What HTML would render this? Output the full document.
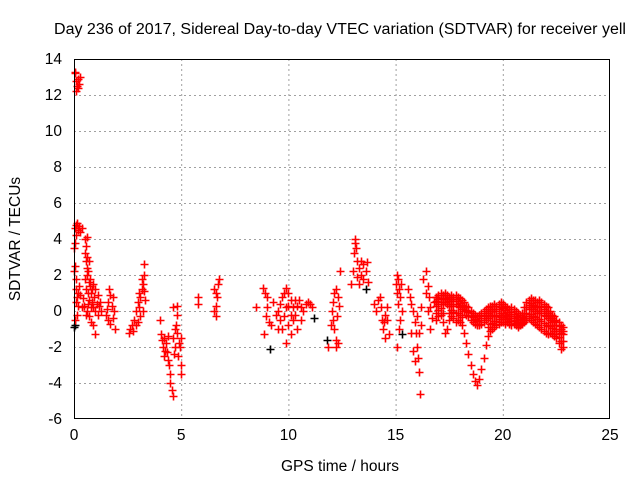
<!DOCTYPE html>
<html><head><meta charset="utf-8"><style>
body{margin:0;background:#fff}
svg{display:block;font-family:"Liberation Sans",sans-serif}
</style></head><body>
<svg id="chart" width="640" height="480" viewBox="0 0 640 480">
<text x="340" y="34" font-size="15.5" text-anchor="middle" fill="#000" textLength="572" lengthAdjust="spacingAndGlyphs">Day 236 of 2017, Sidereal Day-to-day VTEC variation (SDTVAR) for receiver yell</text>
<text x="340" y="471" font-size="15.5" text-anchor="middle">GPS time / hours</text>
<text transform="translate(20,239) rotate(-90)" font-size="15.5" text-anchor="middle">SDTVAR / TECUs</text>
<g id="grid"></g>
<g id="ticks"></g>
<g id="black"></g>
<g id="red"></g>
<rect x="74.5" y="59.5" width="535" height="359" fill="none" stroke="#000" stroke-width="1"/>
</svg>
<script>
const xTicks=[0,5,10,15,20,25];
const yTicks=[14,12,10,8,6,4,2,0,-2,-4,-6];
// scattered red points [hour, value]
const redPts=[[0.05,13.2],[0.1,12.8],[0.15,12.5],[0.2,12.9],[0.25,12.6],[0.3,13.0],[0.1,12.2],[0.05,13.3],[0.2,12.4],
[0.05,4.6],[0.1,4.8],[0.15,4.9],[0.2,4.5],[0.25,4.7],[0.3,4.4],[0.35,4.6],[0.1,4.2],[0.05,3.8],[0.02,3.5],
[0.0,2.2],[0.05,2.5],[0.08,1.8],[0.1,1.2],[0.15,0.8],[0.2,0.3],[0.12,-0.2],[0.03,-0.5],[0.1,0.5],[0.2,1.0],[0.25,1.4],[0.3,0.9],[0.35,0.2],[0.4,0.7],
[0.5,4.0],[0.55,3.6],[0.6,4.1],[0.5,3.2],[0.55,2.8],[0.6,2.4],[0.5,1.8],[0.6,2.0],[0.7,1.6],[0.55,1.2],[0.65,1.0],[0.7,0.6],[0.75,1.4],[0.8,1.0],[0.85,0.5],[0.9,0.2],[0.95,0.8],[1.0,1.2],[1.05,0.4],[1.1,-0.2],[1.15,0.3],[0.6,0.0],[0.7,-0.3],[0.8,-0.6],[0.9,-0.8],[1.0,-1.3],[0.45,0.3],[0.55,-0.2],[0.65,0.4],[0.75,1.8],[0.85,1.2],[1.1,0.9],[1.2,0.5],[1.25,0.0],[0.6,3.0],[0.65,2.2],[0.7,2.8],[0.8,0.2],[0.9,1.5],[1.0,0.0],
[1.5,-0.2],[1.55,0.1],[1.6,0.5],[1.65,1.2],[1.7,0.9],[1.6,-0.5],[1.7,-0.7],[1.8,-0.4],[1.85,0.0],[1.9,-1.0],[1.75,0.3],[1.8,0.8],
[2.55,-1.2],[2.6,-1.0],[2.7,-0.8],[2.8,-0.5],[2.75,-1.1],[2.9,0.0],[3.0,0.5],[3.05,0.2],[3.1,0.8],[3.15,1.2],[3.2,1.5],[3.25,2.0],[3.1,-0.3],[3.0,-0.6],[3.2,0.0],[3.3,0.6],[3.15,1.8],[2.9,-0.8],[3.05,1.0],[3.25,1.1],[3.25,2.6],
[4.0,-0.5],[4.05,-1.3],[4.1,-1.6],[4.15,-2.0],[4.2,-1.5],[4.3,-1.8],[4.35,-2.3],[4.4,-2.7],[4.25,-2.2],[4.5,-4.0],[4.55,-4.4],[4.6,-4.7],[4.5,-3.5],[4.6,-1.5],[4.7,-1.0],[4.75,-0.8],[4.7,-2.0],[4.8,-1.2],[4.85,-2.5],[4.9,-1.8],[4.95,-2.0],[5.0,-3.0],[5.0,-3.5],[4.8,-0.2],[4.6,0.2],[4.8,0.3],[5.0,-1.5],[4.2,-2.5],[4.4,-1.4],[4.65,-2.4],[4.45,-3.0],
[5.8,0.8],[5.8,0.4],[6.55,1.2],[6.6,1.0],[6.65,0.8],[6.7,1.5],[6.75,1.8],[6.6,0.3],[6.55,0.0],[6.6,-0.3],
[8.5,0.2],[8.8,1.3],[8.9,1.0],[9.0,0.8],[8.95,-0.3],[8.85,-1.3],[9.0,0.2],[9.1,-0.6],[9.2,-0.8],
[9.3,0.5],[9.4,-0.2],[9.5,0.0],[9.6,0.4],[9.7,0.8],[9.8,1.0],[9.9,1.3],[10.0,1.0],[10.1,0.6],[10.2,0.2],[10.3,-0.2],[10.4,0.3],[10.5,0.6],[10.6,0.2],[10.7,0.0],[10.8,0.4],[10.9,0.5],[11.0,0.4],[11.1,0.2],[9.6,-0.5],[9.8,-0.3],[10.0,-0.8],[10.2,-0.5],[10.4,-1.0],[9.9,-1.8],[10.1,-1.3],[9.5,-1.0],[9.7,-1.0],[10.6,-0.5],[9.9,0.2],[10.1,-0.2],[10.3,0.6],[10.0,0.3],
[11.85,-2.0],[12.0,-0.8],[12.05,0.0],[12.1,0.5],[12.15,1.0],[12.2,1.2],[12.3,0.8],[12.1,-0.5],[12.15,-1.0],[12.2,-1.6],[12.2,-2.0],[12.3,-1.8],[12.4,2.2],[12.35,0.3],[12.25,-0.3],
[12.9,1.5],[13.0,2.2],[13.05,3.2],[13.1,4.0],[13.15,3.5],[13.2,2.8],[13.3,2.4],[13.4,2.0],[13.5,1.8],[13.6,2.2],[13.65,2.7],[13.7,1.6],[13.3,1.5],[13.5,2.6],[13.1,3.8],[13.2,1.9],[13.4,2.8],
[14.0,0.4],[14.1,0.0],[14.2,0.6],[14.25,0.8],[14.3,0.2],[14.35,-0.5],[14.4,-1.0],[14.45,-0.6],[14.5,-0.2],[14.6,-0.5],[14.7,-1.3],[14.5,-1.5],[14.6,0.2],
[15.0,1.5],[15.05,2.0],[15.1,1.8],[15.15,1.2],[15.2,0.8],[15.1,0.4],[15.25,1.5],[15.3,0.0],[15.2,-0.5],[15.15,-1.0],[15.05,-2.0],[15.05,1.0],
[15.6,1.2],[15.65,0.8],[15.7,0.4],[15.8,0.0],[15.9,-0.6],[15.95,-1.2],[16.0,-2.0],[16.05,-2.6],[16.1,-3.4],[16.15,-4.6],[15.7,-1.2],[15.8,-2.2],[15.9,-2.8],[16.0,-0.3],[16.2,0.2],[16.1,-1.2],[16.2,-0.8],
[16.3,1.8],[16.4,2.2],[16.5,1.4],[16.55,0.8],[16.6,0.2],[16.4,1.0],[16.5,0.0],[16.7,-0.4],[16.6,-1.0],[16.8,0.5],[16.9,0.8]];
// dense band: shared hours and three value tracks
const bandHours=[16.9,17.0,17.1,17.2,17.3,17.4,17.5,17.6,17.7,17.8,17.9,18.0,18.1,18.2,18.3,18.4,18.5,18.6,18.7,18.8,18.9,19.0,19.1,19.2,19.3,19.4,19.5,19.6,19.7,19.8,19.9,20.0,20.1,20.2,20.3,20.4,20.5,20.6,20.7,20.8,20.9,21.0,21.1,21.2,21.3,21.4,21.5,21.6,21.7,21.8,21.9,22.0,22.1,22.2,22.3,22.4,22.5,22.6,22.7,22.8];
const bandTop=[0.8,0.9,1.0,0.9,1.0,0.9,0.8,0.9,0.8,0.9,0.8,0.7,0.6,0.5,0.3,0.2,0.0,-0.1,-0.2,-0.3,-0.2,-0.1,0.0,0.1,0.2,0.3,0.3,0.4,0.3,0.4,0.5,0.4,0.3,0.2,0.1,0.2,0.1,0.0,-0.1,-0.2,-0.1,0.2,0.5,0.6,0.7,0.6,0.6,0.5,0.6,0.5,0.4,0.3,0.2,0.0,-0.2,-0.3,-0.5,-0.6,-0.8,-0.9];
const bandMid=[0.3,0.4,0.5,0.4,0.5,0.4,0.3,0.4,0.3,0.4,0.3,0.2,0.1,0.0,-0.2,-0.3,-0.5,-0.6,-0.7,-0.8,-0.8,-0.7,-0.6,-0.5,-0.4,-0.3,-0.3,-0.2,-0.3,-0.2,-0.1,-0.1,-0.2,-0.3,-0.4,-0.3,-0.4,-0.5,-0.6,-0.7,-0.6,-0.4,-0.1,0.1,0.2,0.1,0.0,-0.1,0.0,-0.1,-0.2,-0.3,-0.4,-0.5,-0.6,-0.8,-1.0,-1.1,-1.2,-1.3];
const bandLow=[-0.5,-0.3,-0.2,-0.6,-1.2,-1.0,-0.5,-0.3,-0.4,-0.6,-0.5,-0.6,-0.8,-1.2,-1.8,-2.4,-3.0,-3.5,-3.9,-4.1,-3.8,-3.2,-2.6,-1.9,-1.4,-1.1,-1.0,-0.9,-0.8,-0.7,-0.6,-0.6,-0.7,-0.6,-0.7,-0.8,-0.7,-0.8,-0.9,-0.8,-0.7,-0.6,-0.5,-0.4,-0.5,-0.6,-0.7,-0.8,-0.9,-1.0,-1.1,-1.2,-1.3,-1.2,-1.3,-1.4,-1.5,-1.8,-2.1,-2.0];
const blackPts=[[0.05,-0.8],[9.15,-2.1],[11.8,-1.6],[11.2,-0.4],[15.3,-1.3],[13.6,1.2],[0.0,-0.9]];

const X0=74,X1=610,Y0=419,Y1=59,XMIN=0,XMAX=25,YMIN=-6,YMAX=14;
function sx(t){return X0+(t-XMIN)/(XMAX-XMIN)*(X1-X0);}
function sy(v){return Y0-(v-YMIN)/(YMAX-YMIN)*(Y0-Y1);}
const NS='http://www.w3.org/2000/svg';
function mk(tag,attrs,parent){const e=document.createElementNS(NS,tag);for(const k in attrs)e.setAttribute(k,attrs[k]);parent.appendChild(e);return e;}
const grid=document.getElementById('grid'),ticks=document.getElementById('ticks');
xTicks.forEach(t=>{
  const x=sx(t)+0.5;
  if(t>XMIN&&t<XMAX){const g=mk('line',{x1:x,y1:Y1,x2:x,y2:Y0,stroke:'#a0a0a0','stroke-dasharray':'2,3'},grid);
  
  }
  const lb=mk('text',{x:sx(t),y:Y0+21,'font-size':15.5,'text-anchor':'middle'},ticks);
  lb.textContent=t;
  
  
});
yTicks.forEach(v=>{
  const y=sy(v)+0.5;
  if(v>YMIN&&v<YMAX){const g=mk('line',{x1:X0,y1:y,x2:X1,y2:y,stroke:'#a0a0a0','stroke-dasharray':'2,3'},grid);
  
  }
  const lb=mk('text',{x:X0-12,y:sy(v)+5,'font-size':15.5,'text-anchor':'end'},ticks);
  lb.textContent=v;
  
  
});
function plus(t,v,color,parent,name){
  const x=Math.round(sx(t))+0.5,y=Math.round(sy(v))+0.5;
  const p=mk('path',{d:`M${x-4},${y}H${x+4}M${x},${y-4}V${y+4}`,stroke:color,'stroke-width':1.6,fill:'none'},parent);
  
  
}
const bl=document.getElementById('black'),rd=document.getElementById('red');
blackPts.forEach(p=>plus(p[0],p[1],'#000',bl,'black-point'));
redPts.forEach(p=>plus(p[0],p[1],'#ff0000',rd,'red-point'));
bandHours.forEach((t,i)=>{
  [bandTop[i],bandMid[i],bandLow[i]].forEach(v=>plus(t,v,'#ff0000',rd,'band-point'));
  plus(t,(bandTop[i]+bandMid[i])/2,'#ff0000',rd,'band-point');
  if(bandMid[i]-bandLow[i]<1.2) plus(t,(bandMid[i]+bandLow[i])/2,'#ff0000',rd,'band-point');
});
</script>
</body></html>
